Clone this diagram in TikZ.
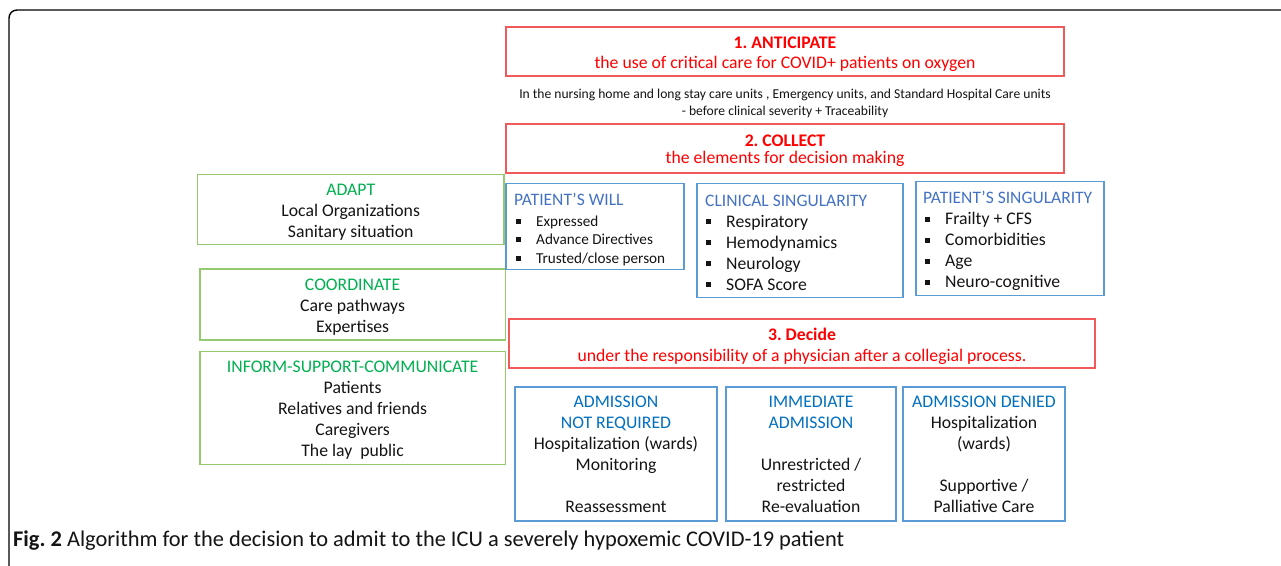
\documentclass[tikz,border=0pt]{standalone}
\usepackage{fontspec}
\setmainfont{Carlito}
\frenchspacing
\definecolor{rtxt}{RGB}{255,0,0}
\definecolor{rbox}{RGB}{240,90,90}
\definecolor{gtxt}{RGB}{0,176,80}
\definecolor{gbox}{RGB}{150,200,110}
\definecolor{btxt}{RGB}{68,114,196}
\definecolor{btxt2}{RGB}{0,112,192}
\definecolor{bbox}{RGB}{91,155,213}
\definecolor{dtxt}{RGB}{20,20,20}
\newcommand{\sqb}{\makebox[20pt][l]{\raisebox{0.3em}{\raisebox{-2.5pt}{\rule{5pt}{5pt}}}}}
\begin{document}
\begin{tikzpicture}[x=1pt,y=-1pt,
  box/.style={draw,line width=1.3pt,inner sep=0pt,align=center,text=dtxt},
  redbox/.style={box,draw=rbox,text=rtxt},
  greenbox/.style={box,draw=gbox},
  bluebox/.style={box,draw=bbox},
  ctext/.style={inner sep=0pt,align=center,text=dtxt,font=\fontsize{17.7}{21}\selectfont},
  lst/.style={anchor=north west,inner sep=0pt,align=left,text=dtxt}]
\useasboundingbox (0,0) rectangle (1281,565);
\fill[white] (0,0) rectangle (1281,565);
\draw[line width=1.4pt,rounded corners=8pt] (9,566) -- (9,10) -- (1282,10);

\node[redbox,minimum width=558pt,minimum height=49pt] (ant) at (785,51.5) {};
\node[ctext,text=rtxt,font=\fontsize{17.7}{20}\selectfont] (antt) at (785,54.5)
  {\textbf{1. ANTICIPATE}\\the use of critical care for COVID+ patients on oxygen};
\node[ctext,font=\fontsize{13.6}{17}\selectfont] (where) at (785,103.5)
  {In the nursing home and long stay care units , Emergency units, and Standard Hospital Care units\\- before clinical severity + Traceability};
\node[redbox,minimum width=558pt,minimum height=49pt] (col) at (785,148.5) {};
\node[ctext,text=rtxt,font=\fontsize{17.7}{17.5}\selectfont] (colt) at (785,150.5)
  {\textbf{2. COLLECT}\\the elements for decision making};

\node[greenbox,minimum width=306.5pt,minimum height=70.5pt] (adapt) at (350.7,209.5) {};
\node[ctext] (adaptt) at (350.7,212.5)
  {\textcolor{gtxt}{ADAPT}\\Local Organizations\\Sanitary situation};
\node[greenbox,minimum width=305.3pt,minimum height=71pt] (coord) at (352.6,304.5) {};
\node[ctext] (coordt) at (352.6,307.5)
  {\textcolor{gtxt}{COORDINATE}\\Care pathways\\Expertises};
\node[greenbox,minimum width=305.3pt,minimum height=113pt] (inform) at (352.6,408.2) {};
\node[ctext] (informt) at (352.6,410.2)
  {\textcolor{gtxt}{INFORM-SUPPORT-COMMUNICATE}\\Patients\\Relatives and friends\\Caregivers\\The lay\ \ public};

\node[bluebox,minimum width=178pt,minimum height=86pt] (will) at (595,226.7) {};
\node[lst,font=\fontsize{15.2}{18.5}\selectfont] (willt) at (516,193)
  {\hspace*{-2pt}\textcolor{btxt}{\fontsize{17.5}{18.5}\selectfont PATIENT'S WILL}\\[2pt]\sqb Expressed\\\sqb Advance Directives\\\sqb Trusted/close person};
\node[bluebox,minimum width=206pt,minimum height=113.6pt] (clin) at (800,240.5) {};
\node[lst,font=\fontsize{17.7}{21}\selectfont] (clint) at (706,194.5)
  {\hspace*{-1pt}\textcolor{btxt}{\fontsize{17.5}{21}\selectfont CLINICAL SINGULARITY}\\\sqb Respiratory\\\sqb Hemodynamics\\\sqb Neurology\\\sqb SOFA Score};
\node[bluebox,minimum width=188pt,minimum height=113.6pt] (sing) at (1010,238.5) {};
\node[lst,font=\fontsize{17.7}{21}\selectfont] (singt) at (925,191)
  {\hspace*{-2pt}\textcolor{btxt}{\fontsize{17.5}{21}\selectfont PATIENT’S SINGULARITY}\\\sqb Frailty + CFS\\\sqb Comorbidities\\\sqb Age\\\sqb Neuro-cognitive};

\node[redbox,minimum width=586pt,minimum height=49pt] (dec) at (802,343.5) {};
\node[ctext,text=rtxt] (dect) at (802,346.5)
  {\textbf{3. Decide}\\under the responsibility of a physician after a collegial process.};

\node[bluebox,minimum width=202pt,minimum height=134pt,font=\fontsize{17.7}{21}\selectfont] (anr) at (616,454)
  {\textcolor{btxt2}{ADMISSION}\\\textcolor{btxt2}{NOT REQUIRED}\\Hospitalization (wards)\\Monitoring\\\mbox{}\\Reassessment};
\node[bluebox,minimum width=170pt,minimum height=134pt,font=\fontsize{17.7}{21}\selectfont] (imm) at (811,454)
  {\textcolor{btxt2}{IMMEDIATE}\\\textcolor{btxt2}{ADMISSION}\\\mbox{}\\Unrestricted /\\restricted\\Re-evaluation};
\node[bluebox,minimum width=162pt,minimum height=134pt,font=\fontsize{17.7}{21}\selectfont] (den) at (984,454)
  {\textcolor{btxt2}{ADMISSION DENIED}\\Hospitalization\\(wards)\\\mbox{}\\Supportive /\\Palliative Care};

\node[anchor=west,inner sep=0pt,font=\fontsize{22.4}{24}\selectfont,text=dtxt] (cap) at (13,541)
  {\textbf{Fig. 2} Algorithm for the decision to admit to the ICU a severely hypoxemic COVID-19 patient};
\end{tikzpicture}
\end{document}
